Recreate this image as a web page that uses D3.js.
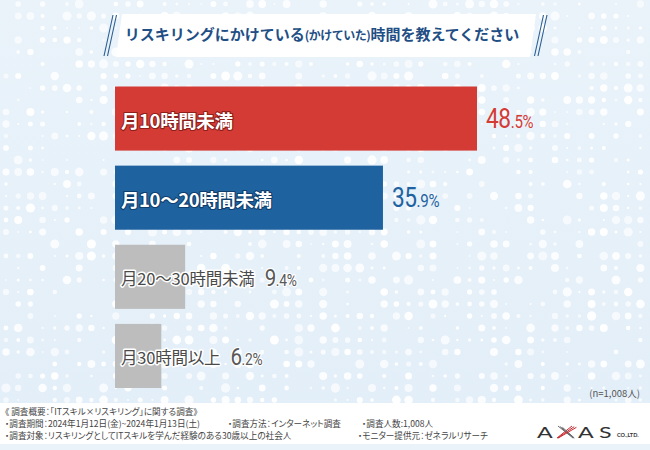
<!DOCTYPE html>
<html>
<head>
<meta charset="utf-8">
<script src="https://cdn.jsdelivr.net/npm/d3@7"></script>
<style>
  html, body { margin: 0; padding: 0; background: #fff; }
  svg { display: block; }
  .foot { font-feature-settings: "palt" 1; }
</style>
</head>
<body>
<div id="chart"></div>
<script>
// ---- data ----
const categories = ["月10時間未満", "月10〜20時間未満", "月20〜30時間未満", "月30時間以上"];
const values = [48.5, 35.9, 9.4, 6.2];
const titleParts = ["リスキリングにかけている", "(かけていた)", "時間を教えてください"];
const sampleNote = "(n=1,008人)";
const footerLines = [
  ["《 調査概要：「ITスキル×リスキリング」に関する調査》"],
  ["・調査期間：2024年1月12日(金)~2024年1月13日(土)", "・調査方法：インターネット調査", "・調査人数:1,008人"],
  ["・調査対象：リスキリングとしてITスキルを学んだ経験のある30歳以上の社会人", "・モニター提供元：ゼネラルリサーチ"]
];

// ---- setup ----
const W = 650, H = 450;
const svg = d3.select("#chart").append("svg").attr("width", W).attr("height", H);
const defs = svg.append("defs");
const bg = defs.append("linearGradient").attr("id", "bg").attr("x1", 0).attr("y1", 0).attr("x2", 0).attr("y2", 1);
bg.append("stop").attr("offset", "0%").attr("stop-color", "#eaf3fa");
bg.append("stop").attr("offset", "100%").attr("stop-color", "#e2eef8");
svg.append("rect").attr("width", W).attr("height", H).attr("fill", "url(#bg)");

// decorative dot texture (deterministic)
const hash = (a, b) => { const s = Math.sin(a * 12.9898 + b * 78.233) * 43758.5453; return s - Math.floor(s); };
const dots = [];
for (let j = 0; j * 12 + 4 < 404; j++) {
  for (let i = 0; i * 12.2 + 6 < W; i++) {
    const h1 = hash(i, j), h2 = hash(i + 31, j * 3 + 7), band = hash(i * 7 + 3, 11);
    const r = h1 < 0.22 + band * 0.2 ? 0 : 0.9 + h2 * 3.8;
    if (r > 0) dots.push({ x: 6 + i * 12.2, y: 4 + j * 12, r, o: 0.6 + 0.4 * hash(i, j + 99) });
  }
}
svg.append("g").selectAll("circle").data(dots).join("circle")
  .attr("cx", d => d.x).attr("cy", d => d.y).attr("r", d => d.r)
  .attr("fill", "#fff").attr("opacity", d => d.o);

// ---- title banner ----
svg.append("polygon").attr("points", "122,14 536,14 530,57 116,57").attr("fill", "#fff");
const slash = svg.append("g").attr("stroke", "#2a5d93").attr("stroke-width", 1.1);
[[113, 104], [116.5, 107.5], [543.5, 534.5], [547, 538]].forEach(([x1, x2]) =>
  slash.append("line").attr("x1", x1).attr("y1", 15).attr("x2", x2).attr("y2", 56));
const title = svg.append("text").attr("x", 322).attr("y", 40).attr("text-anchor", "middle")
  .attr("font-family", "'Noto Sans CJK JP', sans-serif").attr("font-weight", 700)
  .attr("fill", "#1f4f85");
title.append("tspan").attr("font-size", 15).text(titleParts[0]);
title.append("tspan").attr("font-size", 12).attr("letter-spacing", -0.5).text(titleParts[1]);
title.append("tspan").attr("font-size", 15).text(titleParts[2]);

// ---- scales ----
const x = d3.scaleLinear().domain([0, 48.5]).range([115, 477]);
const y = d3.scaleBand().domain(categories).range([86.5, 388]).paddingInner(0.19).paddingOuter(0);
const fill = d3.scaleOrdinal().domain(categories).range(["#d43b35", "#1e62a0", "#bdbdbd", "#bdbdbd"]);
const edge = d3.scaleOrdinal().domain(categories).range(["#8e1f1b", "#103e6c", "#ffffff", "#ffffff"]);
const valColor = d3.scaleOrdinal().domain(categories).range(["#d43b35", "#1e62a0", "#595959", "#595959"]);
const strong = d => categories.indexOf(d) < 2;

const rows = categories.map((c, i) => ({ c, v: values[i] }));

svg.append("g").selectAll("rect").data(rows).join("rect")
  .attr("x", x(0)).attr("y", d => y(d.c))
  .attr("width", d => x(d.v) - x(0)).attr("height", y.bandwidth())
  .attr("fill", d => fill(d.c));

const labels = svg.append("g").selectAll("text").data(rows).join("text")
  .attr("x", 121).attr("y", d => y(d.c) + y.bandwidth() / 2 + 1)
  .attr("dominant-baseline", "central")
  .attr("font-family", "'Noto Sans CJK JP', sans-serif")
  .attr("font-size", d => strong(d.c) ? 18.5 : 16.5)
  .attr("font-weight", d => strong(d.c) ? 700 : 400)
  .attr("letter-spacing", d => strong(d.c) ? -0.4 : -0.2)
  .attr("fill", d => strong(d.c) ? "#fff" : "#4a4a4a")
  .attr("stroke", d => edge(d.c))
  .attr("stroke-width", d => strong(d.c) ? 2.2 : 3)
  .attr("stroke-linejoin", "round")
  .attr("paint-order", "stroke")
  .text(d => d.c);

const labelEnd = [];
labels.each(function () { labelEnd.push(121 + this.getComputedTextLength()); });

const vals = svg.append("g").selectAll("text").data(rows).join("text")
  .attr("transform", (d, i) => {
    const vx = strong(d.c) ? x(d.v) + 9 : labelEnd[i] + 10;
    return `translate(${vx},${y(d.c) + y.bandwidth() / 2 + 9.5}) scale(0.84,1)`;
  })
  .attr("font-family", "Roboto, sans-serif").attr("font-weight", 400)
  .attr("fill", d => valColor(d.c))
  .attr("stroke", d => strong(d.c) ? "none" : "#fff")
  .attr("stroke-width", 2.5).attr("paint-order", "stroke");
vals.append("tspan").attr("font-size", d => strong(d.c) ? 27 : 24.5).attr("letter-spacing", -0.5)
  .text(d => Math.floor(d.v));
vals.append("tspan").attr("font-size", d => strong(d.c) ? 18 : 16.5).attr("letter-spacing", -0.3)
  .text(d => "." + Math.round((d.v % 1) * 10) + "%");

// ---- sample note ----
svg.append("text").attr("x", 640).attr("y", 397).attr("text-anchor", "end")
  .attr("font-family", "'Noto Sans CJK JP', sans-serif").attr("font-size", 9.5)
  .attr("fill", "#555").text(sampleNote);

// ---- footer ----
svg.append("rect").attr("x", 0).attr("y", 403).attr("width", W).attr("height", 41).attr("fill", "#fff");
svg.append("rect").attr("x", 0).attr("y", 444).attr("width", W).attr("height", 6).attr("fill", "#eaf3fa");
const footXs = [[5], [5, 228, 362], [5, 358]];
const footYs = [415, 427, 439];
footerLines.forEach((line, li) => line.forEach((t, k) => {
  svg.append("text").attr("class", "foot").attr("x", footXs[li][k]).attr("y", footYs[li])
    .attr("font-family", "'Noto Sans CJK JP', sans-serif").attr("font-size", 8.6)
    .attr("fill", "#444").text(t);
}));

// ---- logo ----
const logo = svg.append("g").attr("transform", "translate(537,438)");
const letter = (tx, ch) => logo.append("text").attr("x", 0).attr("y", 0)
  .attr("transform", `translate(${tx},0) scale(1.45,1)`)
  .attr("font-family", "Lato, sans-serif").attr("font-weight", 400).attr("font-size", 16)
  .attr("fill", "#333").text(ch);
letter(0, "A");
const xg = logo.append("g").attr("stroke-width", 1);
[0, 2.2, 4.4].forEach(o => {
  xg.append("line").attr("x1", 21 + o).attr("y1", -12 + o * 0.3).attr("x2", 36 + o * 0.3).attr("y2", 0).attr("stroke", "#666");
  xg.append("line").attr("x1", 20 + o * 0.3).attr("y1", 0).attr("x2", 35 + o).attr("y2", -12 + o * 0.3).attr("stroke", "#c8282e");
});
letter(41, "A");
letter(62, "S");
logo.append("text").attr("x", 80).attr("y", -1).attr("font-family", "Lato, sans-serif")
  .attr("font-size", 5.5).attr("font-weight", 700).attr("fill", "#333").text("CO.,LTD.");
</script>
</body>
</html>
